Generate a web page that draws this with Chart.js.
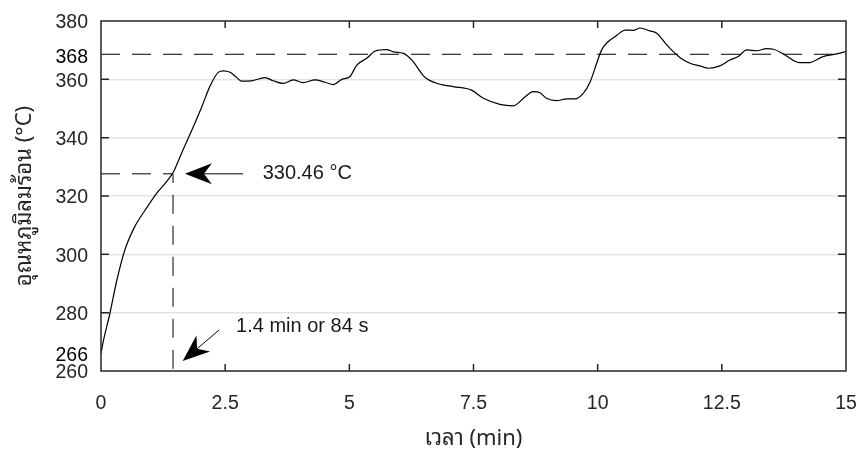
<!DOCTYPE html>
<html>
<head>
<meta charset="utf-8">
<script src="https://cdn.jsdelivr.net/npm/chart.js@4/dist/chart.umd.min.js"></script>
<style>
  html, body { margin: 0; padding: 0; background: #fff; }
  #wrap { width: 858px; height: 457px; position: relative; }
</style>
</head>
<body>
<div id="wrap"><canvas id="c"></canvas></div>
<script>
// ---- data ----
const timeMin = [0, 0.05, 0.18, 0.32, 0.48, 0.68, 0.89, 1.12, 1.32, 1.46, 1.62, 1.83, 2.03, 2.19, 2.36, 2.46, 2.60, 2.72, 2.83, 3.03, 3.30, 3.47, 3.67, 3.87, 4.07, 4.31, 4.51, 4.68, 4.85, 5.01, 5.15, 5.35, 5.52, 5.75, 5.89, 6.09, 6.26, 6.52, 6.83, 7.09, 7.46, 7.70, 8.03, 8.30, 8.54, 8.70, 8.84, 8.97, 9.17, 9.38, 9.54, 9.71, 9.85, 9.98, 10.08, 10.21, 10.38, 10.55, 10.72, 10.85, 11.05, 11.19, 11.39, 11.66, 11.86, 12.06, 12.23, 12.46, 12.66, 12.83, 13.00, 13.20, 13.40, 13.54, 13.74, 14.07, 14.24, 14.54, 14.81, 15.0];
const tempC = [266, 270.5, 279.8, 291.2, 301.5, 309.5, 315.2, 320.9, 324.9, 328.3, 334.6, 342.6, 350.6, 357.5, 362.4, 362.9, 362.4, 360.8, 359.4, 359.5, 360.6, 359.5, 358.6, 359.8, 358.9, 359.8, 359.0, 358.2, 360.0, 360.9, 364.9, 367.2, 369.7, 370.2, 369.4, 368.9, 366.6, 360.7, 358.3, 357.5, 356.3, 353.5, 351.4, 350.9, 354.0, 355.8, 355.4, 353.5, 352.7, 353.3, 353.3, 355.2, 359.2, 365.5, 370.1, 372.9, 375.0, 376.9, 376.8, 377.6, 376.6, 375.8, 371.8, 367.4, 365.5, 364.6, 363.8, 364.6, 366.6, 367.8, 370.1, 369.8, 370.5, 370.3, 368.7, 365.7, 365.7, 367.8, 368.7, 369.5];
const setpointX = [0, 15];
const setpointY = [368.6, 368.6];
const markX = [0, 1.45, 1.45];
const markY = [327.6, 327.6, 260];
const yTickValues = [260, 266, 280, 300, 320, 340, 360, 368, 380];
const yGridValues = [280, 300, 320, 340, 360];
const xTickValues = [0, 2.5, 5, 7.5, 10, 12.5, 15];
const tempLabel = '330.46 °C';
const timeLabel = '1.4 min or 84 s';
const xTitle = 'เวลา (min)';
const yTitle = 'อุณหภูมิลมร้อน (°C)';

const pts = (xs, ys) => xs.map((x, i) => ({ x: x, y: ys[i] }));

const FONT = "'Liberation Sans', Arial, sans-serif";
const THAI = "'Noto Sans Thai Looped', 'Noto Looped Thai', 'Noto Serif Thai', 'Noto Sans Thai', Tahoma, 'Liberation Sans', sans-serif";

const framePlugin = {
  id: 'frame',
  afterDraw(chart) {
    const { ctx, chartArea: a, scales } = chart;
    const xs = scales.x, ys = scales.y;
    ctx.save();
    ctx.strokeStyle = '#262626';
    ctx.lineWidth = 1.5;
    ctx.strokeRect(a.left, a.top, a.right - a.left, a.bottom - a.top);
    ctx.beginPath();
    xTickValues.forEach(v => {
      if (v <= 0 || v >= 15) return;
      const px = xs.getPixelForValue(v);
      ctx.moveTo(px, a.bottom); ctx.lineTo(px, a.bottom - 7);
      ctx.moveTo(px, a.top); ctx.lineTo(px, a.top + 7);
    });
    yGridValues.forEach(v => {
      const py = ys.getPixelForValue(v);
      ctx.moveTo(a.left, py); ctx.lineTo(a.left + 8, py);
      ctx.moveTo(a.right, py); ctx.lineTo(a.right - 8, py);
    });
    ctx.stroke();

    // annotations
    function arrow(x0, y0, x1, y1) {
      const X0 = xs.getPixelForValue(x0), Y0 = ys.getPixelForValue(y0);
      const X1 = xs.getPixelForValue(x1), Y1 = ys.getPixelForValue(y1);
      const ang = Math.atan2(Y1 - Y0, X1 - X0);
      const L = 27, W = 10.5, N = 19;
      ctx.strokeStyle = '#000';
      ctx.lineWidth = 1;
      ctx.beginPath();
      ctx.moveTo(X0, Y0);
      ctx.lineTo(X1 - Math.cos(ang) * N, Y1 - Math.sin(ang) * N);
      ctx.stroke();
      const bx = X1 - Math.cos(ang) * L, by = Y1 - Math.sin(ang) * L;
      const nx = -Math.sin(ang), ny = Math.cos(ang);
      ctx.fillStyle = '#000';
      ctx.beginPath();
      ctx.moveTo(X1, Y1);
      ctx.lineTo(bx + nx * W, by + ny * W);
      ctx.lineTo(X1 - Math.cos(ang) * N, Y1 - Math.sin(ang) * N);
      ctx.lineTo(bx - nx * W, by - ny * W);
      ctx.closePath();
      ctx.fill();
    }
    arrow(2.86, 327.6, 1.69, 327.6);
    arrow(2.38, 274.1, 1.645, 263.4);

    ctx.fillStyle = '#1a1a1a';
    ctx.font = '20px ' + FONT;
    ctx.textBaseline = 'middle';
    ctx.textAlign = 'left';
    ctx.fillText(tempLabel, xs.getPixelForValue(3.255), ys.getPixelForValue(327.6));
    ctx.fillText(timeLabel, xs.getPixelForValue(2.72), ys.getPixelForValue(275.1));
    ctx.restore();
  }
};

new Chart(document.getElementById('c'), {
  type: 'line',
  data: {
    datasets: [
      { data: pts(timeMin, tempC), borderColor: '#000', borderWidth: 1.2, pointRadius: 0, cubicInterpolationMode: 'monotone', fill: false },
      { data: pts(setpointX, setpointY), borderColor: '#000', borderWidth: 1, borderDash: [19, 12], pointRadius: 0, fill: false },
      { data: pts(markX, markY), borderColor: '#000', borderWidth: 1, borderDash: [19, 12], pointRadius: 0, fill: false }
    ]
  },
  options: {
    responsive: true,
    maintainAspectRatio: false,
    animation: false,
    events: [],
    layout: { padding: { left: 0, top: 21, right: 12, bottom: 0 } },
    plugins: { legend: { display: false }, tooltip: { enabled: false } },
    scales: {
      x: {
        type: 'linear', min: 0, max: 15,
        afterBuildTicks: s => { s.ticks = xTickValues.map(v => ({ value: v })); },
        afterFit: s => { s.height = 86; s.paddingLeft = 0; s.paddingRight = 0; },
        grid: { display: false, drawTicks: false },
        border: { display: false },
        ticks: { color: '#262626', font: { family: FONT, size: 19.5 }, padding: 21, maxRotation: 0, autoSkip: false,
                 callback: v => String(v) },
        title: { display: true, text: xTitle, color: '#262626', font: { family: THAI, size: 22 }, padding: { top: 0, bottom: 5 } }
      },
      y: {
        type: 'linear', min: 260, max: 380,
        afterBuildTicks: s => { s.ticks = yTickValues.map(v => ({ value: v })); },
        afterFit: s => { s.width = 101; s.paddingTop = 0; s.paddingBottom = 0; },
        grid: { drawTicks: false, color: c => (yGridValues.includes(c.tick && c.tick.value) ? '#e3e3e3' : 'rgba(0,0,0,0)'), lineWidth: 1.5 },
        border: { display: false },
        ticks: { color: c => ((c.tick.value === 266 || c.tick.value === 368) ? '#000' : '#262626'),
                 font: { family: FONT, size: 19.5 }, padding: 13, labelOffset: 2, autoSkip: false },
        title: { display: true, text: yTitle, color: '#262626', font: { family: THAI, size: 22 }, padding: { top: 12, bottom: 0 } }
      }
    }
  },
  plugins: [framePlugin]
});
</script>
</body>
</html>
